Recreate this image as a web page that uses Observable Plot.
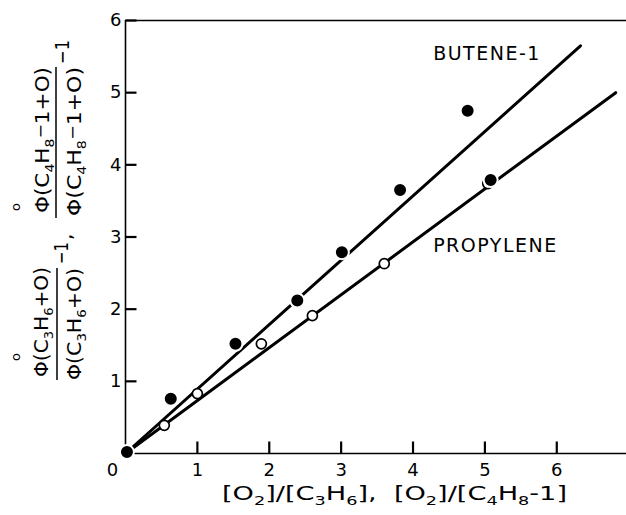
<!DOCTYPE html>
<html><head><meta charset="utf-8">
<script src="https://cdn.jsdelivr.net/npm/d3@7"></script>
<script src="https://cdn.jsdelivr.net/npm/@observablehq/plot@0.6"></script>
<style>
body{margin:0;background:#fff;}
#chart svg{display:block;}
</style></head><body><div id="chart"></div>
<script>
// data
const buteneX = [0.02, 0.63, 1.53, 2.39, 3.01, 3.82, 4.76, 5.08];
const buteneY = [0.02, 0.76, 1.52, 2.12, 2.79, 3.65, 4.75, 3.79];
const propyleneX = [0.54, 1.0, 1.89, 2.6, 3.6, 5.04];
const propyleneY = [0.39, 0.83, 1.52, 1.91, 2.63, 3.74];
const buteneFitX = [0, 6.33];
const buteneFitY = [0, 5.65];
const propyleneFitX = [0, 6.82];
const propyleneFitY = [0, 5.0];
const xTicks = [1, 2, 3, 4, 5, 6];
const yTicks = [1, 2, 3, 4, 5, 6];
const seriesNames = ["BUTENE-1", "PROPYLENE"];
const seriesLabelX = [4.28, 4.28];
const seriesLabelY = [5.54, 2.88];

const zip = (xs, ys) => xs.map((x, i) => ({x, y: ys[i]}));
const butene = zip(buteneX, buteneY);
const propylene = zip(propyleneX, propyleneY);
const labels = seriesNames.map((t, i) => ({t, x: seriesLabelX[i], y: seriesLabelY[i]}));

const W = 626, H = 515, ML = 125, MR = 0, MT = 20, MB = 62;
const xDomain = [0, 6.97], yDomain = [0, 6];
// inward tick lengths (px) converted to data units
const xTickLen = 12 * (yDomain[1] - yDomain[0]) / (H - MT - MB);
const yTickLen = 11 * (xDomain[1] - xDomain[0]) / (W - ML - MR);

const FONT = "DejaVu Sans";
const plot = Plot.plot({
  width: W, height: H,
  marginLeft: ML, marginRight: MR, marginTop: MT, marginBottom: MB,
  x: {domain: xDomain},
  y: {domain: yDomain},
  style: {fontFamily: FONT, fontSize: "18px", background: "#fff"},
  marks: [
    Plot.ruleY([0], {strokeWidth: 1.6, stroke: "black"}),
    Plot.ruleY([6], {strokeWidth: 1.3, stroke: "black"}),
    Plot.ruleX([0], {strokeWidth: 1.6, stroke: "black"}),
    // inward ticks
    Plot.link(xTicks, {x1: d => d, x2: d => d, y1: 0, y2: xTickLen, stroke: "black", strokeWidth: 2.2}),
    Plot.link(yTicks, {y1: d => d, y2: d => d, x1: 0, x2: yTickLen, stroke: "black", strokeWidth: 2.2}),
    // tick labels
    Plot.axisX(xTicks, {anchor: "bottom", tickSize: 0, tickPadding: 10, tickFormat: d => String(d), label: null, fontSize: 18, fill: "black"}),
    Plot.axisY(yTicks, {anchor: "left", tickSize: 0, tickPadding: 4, tickFormat: d => String(d), label: null, fontSize: 18, fill: "black"}),
    Plot.text(["0"], {x: () => 0, y: () => 0, text: d => d, dx: -13, dy: 17, fontSize: 18, fill: "black"}),
    Plot.line(zip(buteneFitX, buteneFitY), {x: "x", y: "y", strokeWidth: 3, stroke: "black"}),
    Plot.line(zip(propyleneFitX, propyleneFitY), {x: "x", y: "y", strokeWidth: 3, stroke: "black"}),
    Plot.dot(propylene, {x: "x", y: "y", r: 5, fill: "white", stroke: "black", strokeWidth: 1.7}),
    Plot.dot(butene, {x: "x", y: "y", r: 7, fill: "black", stroke: "white", strokeWidth: 2}),
    Plot.text(labels, {x: "x", y: "y", text: "t", textAnchor: "start", fontSize: 19, fill: "black", className: "serieslabel"})
  ]
});
document.getElementById("chart").appendChild(plot);

const svg = d3.select(plot);
svg.selectAll(".serieslabel text").style("letter-spacing", "1.5px");

const g = svg.append("g").attr("font-family", FONT).attr("fill", "black").style("white-space", "pre");

// rich text: parts = [text, shiftPx, scale]
function rich(parent, parts, fs) {
  let cur = 0;
  parts.forEach(([s, shift = 0, scale = 1]) => {
    parent.append("tspan").text(s).attr("dy", (shift - cur) + "px").attr("font-size", fs * scale);
    cur = shift;
  });
}
function rotText(px, py, parts, fs, len, anchor = "start") {
  const t = g.append("text").attr("transform", `translate(${px},${py}) rotate(-90)`)
    .attr("text-anchor", anchor).attr("font-size", fs);
  rich(t, parts, fs);
  if (len) t.attr("textLength", len).attr("lengthAdjust", "spacingAndGlyphs");
  return t;
}
const FS = 20;
// lower fraction (propylene)
const numC3 = [["\u03A6(C"], ["3", 5, 0.65], ["H"], ["6", 5, 0.65], ["+O)"]];
rotText(20, 357, [["o"]], 13, null, "middle");
rotText(48, 377, numC3, FS, 110);
g.append("line").attr("x1", 57).attr("x2", 57).attr("y1", 268).attr("y2", 380).attr("stroke", "black").attr("stroke-width", 1.5);
rotText(81, 380, numC3, FS, 112);
rotText(68, 264, [["\u22121"]], FS, 22);
rotText(72, 240, [[","]], FS, null);
// upper fraction (butene-1)
const numC4 = [["\u03A6(C"], ["4", 5, 0.65], ["H"], ["8", 5, 0.65], ["\u2212", -3, 0.8], ["1+O)"]];
rotText(20, 207, [["o"]], 13, null, "middle");
rotText(49, 213, numC4, FS, 146);
g.append("line").attr("x1", 56).attr("x2", 56).attr("y1", 67).attr("y2", 218).attr("stroke", "black").attr("stroke-width", 1.5);
rotText(81, 216, numC4, FS, 149);
rotText(69, 64, [["\u22121"]], FS, 24);

// x-axis title
const xt = g.append("text").attr("x", 222).attr("y", 500).attr("font-size", FS).attr("text-anchor", "start");
rich(xt, [["[O"], ["2", 5, 0.65], ["]/[C"], ["3", 5, 0.65], ["H"], ["6", 5, 0.65], ["],  [O"], ["2", 5, 0.65], ["]/[C"], ["4", 5, 0.65], ["H"], ["8", 5, 0.65], ["-1]"]], FS);
xt.attr("textLength", 345).attr("lengthAdjust", "spacingAndGlyphs");
</script></body></html>
